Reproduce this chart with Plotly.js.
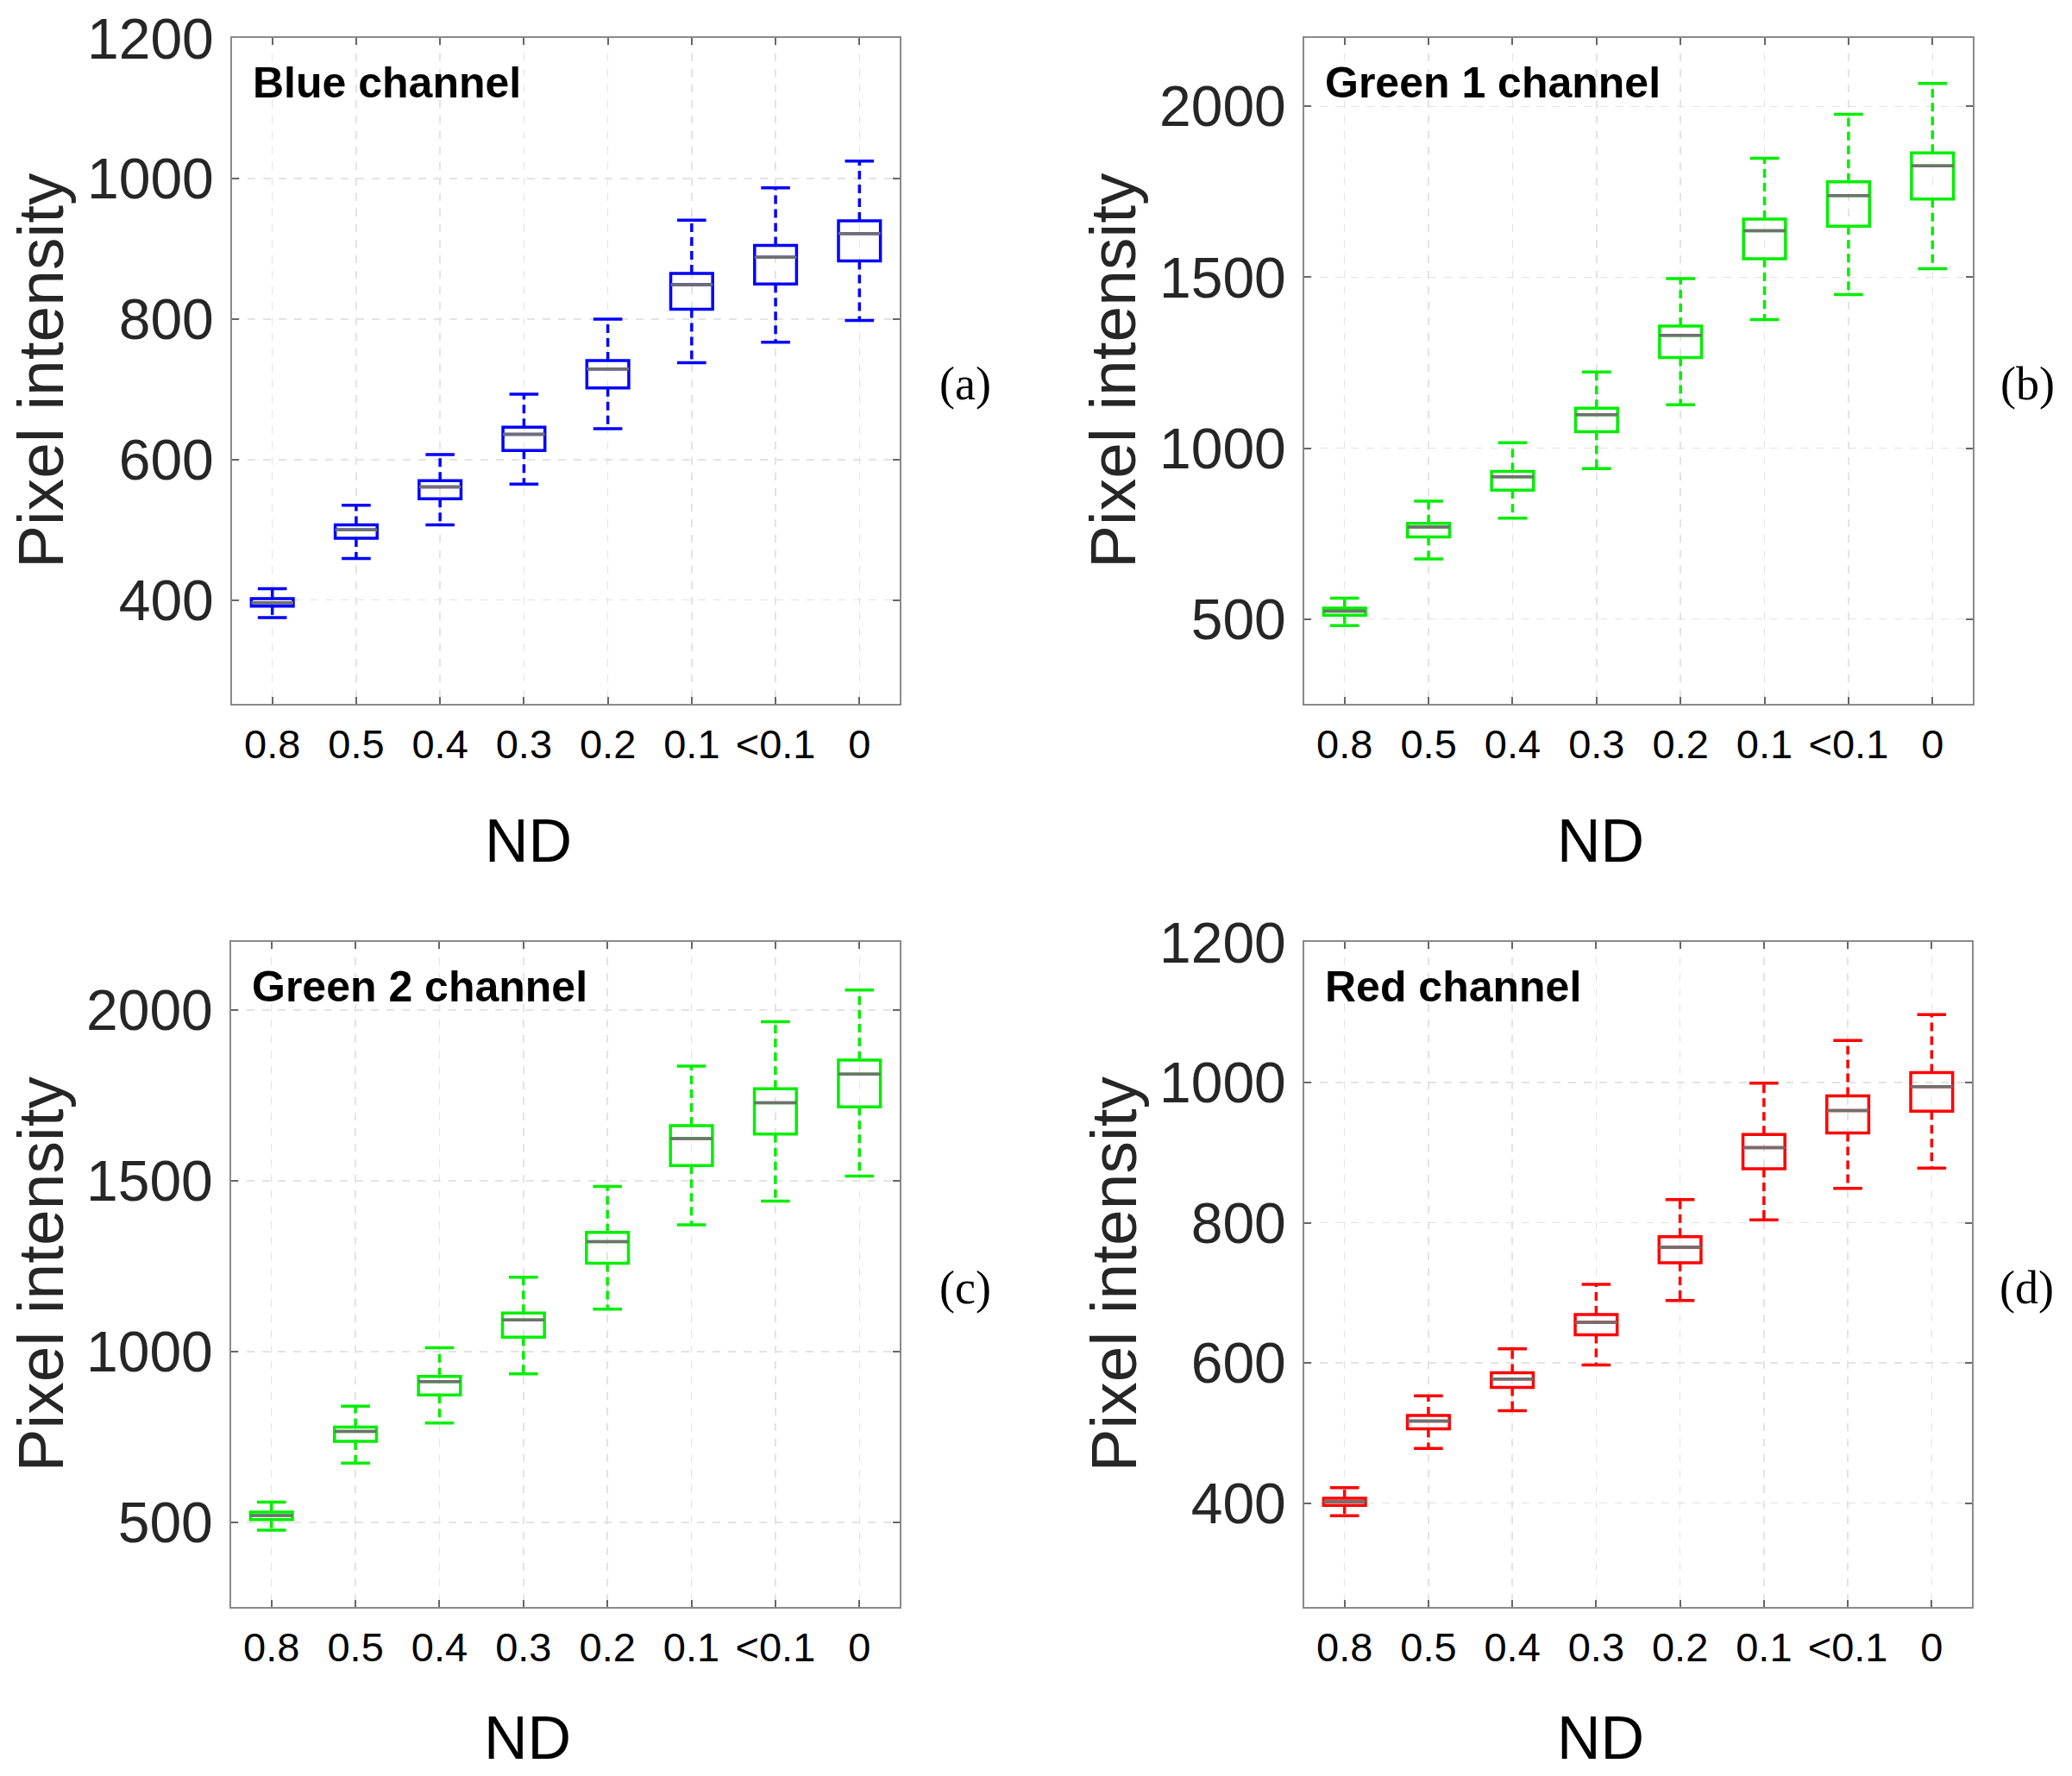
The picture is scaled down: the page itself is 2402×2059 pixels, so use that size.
<!DOCTYPE html>
<html>
<head>
<meta charset="utf-8">
<script src="https://cdn.plot.ly/plotly-3.0.1.min.js"></script>
<style>
  html, body { margin: 0; padding: 0; background: #ffffff; }
  #chart { width: 2402px; height: 2059px; }
</style>
</head>
<body>
<div id="chart"></div>
<script>
// ---------- data ----------
const categories = ['0.8', '0.5', '0.4', '0.3', '0.2', '0.1', '<0.1', '0'];

const blueLower = [375, 459, 507, 565, 644, 738, 767, 798];
const blueQ1    = [391, 488, 544, 613, 702, 814, 850, 883];
const blueMed   = [396, 500, 561, 636, 729, 849, 888, 922];
const blueQ3    = [402, 507, 570, 646, 741, 865, 905, 940];
const blueUpper = [416, 535, 607, 693, 800, 941, 987, 1025];

const green1Lower = [481, 676, 795, 940, 1127, 1376, 1449, 1525];
const green1Q1    = [511, 740, 877, 1048, 1265, 1554, 1649, 1729];
const green1Med   = [523, 769, 916, 1098, 1330, 1636, 1739, 1826];
const green1Q3    = [532, 780, 932, 1117, 1357, 1670, 1779, 1864];
const green1Upper = [561, 845, 1016, 1223, 1496, 1848, 1977, 2067];

const green2Lower = [477, 673, 791, 935, 1124, 1371, 1441, 1514];
const green2Q1    = [508, 737, 873, 1042, 1259, 1545, 1637, 1717];
const green2Med   = [520, 766, 912, 1093, 1322, 1624, 1729, 1813];
const green2Q3    = [530, 779, 927, 1113, 1349, 1662, 1770, 1854];
const green2Upper = [559, 840, 1011, 1218, 1484, 1836, 1966, 2059];

const redLower = [382, 478, 532, 597, 689, 804, 849, 878];
const redQ1    = [397, 506, 565, 640, 743, 877, 928, 959];
const redMed   = [402, 517, 577, 658, 765, 907, 960, 994];
const redQ3    = [407, 525, 586, 669, 780, 926, 981, 1014];
const redUpper = [422, 553, 620, 712, 833, 999, 1060, 1097];

const panelTitles = ['Blue channel', 'Green 1 channel', 'Green 2 channel', 'Red channel'];
const panelLetters = ['(a)', '(b)', '(c)', '(d)'];
const xTitle = 'ND';
const yTitle = 'Pixel intensity';

// ---------- styling / layout helpers ----------
const W = 2402, H = 2059;
const px = v => v / W;
const py = v => 1 - v / H;

const panels = [
  {lower: blueLower, q1: blueQ1, med: blueMed, q3: blueQ3, upper: blueUpper, color: '#0000ff',
   xs: '', left: 269, right: 1043, top: 44, bottom: 816, yrange: [252, 1200.5], tickvals: [400, 600, 800, 1000, 1200],
   letterOff: 76, ndOff: 159},
  {lower: green1Lower, q1: green1Q1, med: green1Med, q3: green1Q3, upper: green1Upper, color: '#00ee00',
   xs: '2', left: 1512, right: 2287, top: 44, bottom: 816, yrange: [252, 2200], tickvals: [500, 1000, 1500, 2000],
   letterOff: 63, ndOff: 159},
  {lower: green2Lower, q1: green2Q1, med: green2Med, q3: green2Q3, upper: green2Upper, color: '#00ee00',
   xs: '3', left: 268, right: 1043, top: 1092, bottom: 1863, yrange: [252, 2200], tickvals: [500, 1000, 1500, 2000],
   letterOff: 76, ndOff: 152},
  {lower: redLower, q1: redQ1, med: redMed, q3: redQ3, upper: redUpper, color: '#ff0000',
   xs: '4', left: 1512, right: 2286, top: 1092, bottom: 1863, yrange: [252, 1200.5], tickvals: [400, 600, 800, 1000, 1200],
   letterOff: 63, ndOff: 152}
];

const idx = categories.map((c, i) => i);
const boxHalf = 0.25;
const traces = [];
const layout = {
  width: W, height: H,
  margin: {l: 0, r: 0, t: 0, b: 0},
  paper_bgcolor: '#ffffff', plot_bgcolor: '#ffffff',
  showlegend: false,
  font: {family: 'Liberation Sans, Arial, sans-serif', color: '#000'},
  annotations: []
};

panels.forEach((p, k) => {
  const xa = 'x' + p.xs, ya = 'y' + p.xs;
  // boxes (no whiskers: fences at quartiles)
  traces.push({
    type: 'box', xaxis: xa, yaxis: ya,
    x: idx, q1: p.q1, median: p.med, q3: p.q3,
    lowerfence: p.q1, upperfence: p.q3,
    width: 2 * boxHalf, whiskerwidth: 0, boxpoints: false,
    line: {color: p.color, width: 3.5},
    fillcolor: 'rgba(255,255,255,0)',
    hoverinfo: 'skip'
  });
  // dashed whiskers
  const wx = [], wy = [];
  idx.forEach(i => {
    wx.push(i, i, null, i, i, null);
    wy.push(p.q3[i], p.upper[i], null, p.q1[i], p.lower[i], null);
  });
  traces.push({
    type: 'scatter', mode: 'lines', xaxis: xa, yaxis: ya,
    x: wx, y: wy, line: {color: p.color, width: 3.5, dash: '10px,6px'},
    hoverinfo: 'skip'
  });
  // whisker caps
  traces.push({
    type: 'scatter', mode: 'markers', xaxis: xa, yaxis: ya,
    x: idx.concat(idx), y: p.upper.concat(p.lower),
    marker: {symbol: 'line-ew', size: 24, line: {color: p.color, width: 3.5}},
    hoverinfo: 'skip'
  });
  // gray medians
  const mx = [], my = [];
  idx.forEach(i => {
    mx.push(i - boxHalf, i + boxHalf, null);
    my.push(p.med[i], p.med[i], null);
  });
  traces.push({
    type: 'scatter', mode: 'lines', xaxis: xa, yaxis: ya,
    x: mx, y: my, line: {color: '#707070', width: 3.5},
    hoverinfo: 'skip'
  });

  const axisCommon = {
    showline: true, linecolor: '#8a8a8a', linewidth: 2, mirror: 'ticks',
    ticks: 'inside', ticklen: 8, tickwidth: 2, tickcolor: '#666666',
    showgrid: true, gridcolor: '#e3e3e3', gridwidth: 1.5, griddash: 'dash',
    zeroline: false, fixedrange: true
  };
  layout['xaxis' + p.xs] = Object.assign({}, axisCommon, {
    domain: [px(p.left), px(p.right)], anchor: ya,
    range: [-0.48, 7.48], tickmode: 'array', tickvals: idx, ticktext: categories,
    tickfont: {family: 'Liberation Sans, Arial, sans-serif', size: 47, color: '#000'},
    ticklabelstandoff: 5
  });
  layout['yaxis' + p.xs] = Object.assign({}, axisCommon, {
    domain: [py(p.bottom), py(p.top)], anchor: xa,
    range: p.yrange, tickmode: 'array', tickvals: p.tickvals,
    tickfont: {family: 'Liberation Sans, Arial, sans-serif', size: 66, color: '#262626'},
    ticklabelstandoff: 6
  });

  const midY = (p.top + p.bottom) / 2;
  // panel title inside plot
  layout.annotations.push({
    xref: 'paper', yref: 'paper', x: px(p.left + 22), y: py(p.top + 52),
    xanchor: 'left', yanchor: 'middle', showarrow: false,
    text: '<b>' + panelTitles[k] + '</b>',
    font: {family: 'Liberation Sans, Arial, sans-serif', size: 50, color: '#000'}
  });
  // panel letter
  layout.annotations.push({
    xref: 'paper', yref: 'paper', x: px(p.right + p.letterOff), y: py(midY + 15),
    xanchor: 'center', yanchor: 'middle', showarrow: false,
    text: panelLetters[k],
    font: {family: 'Liberation Serif, Times New Roman, serif', size: 54, color: '#000'}
  });
  // y title
  layout.annotations.push({
    xref: 'paper', yref: 'paper', x: px(p.left - 222), y: py(midY),
    xanchor: 'center', yanchor: 'middle', showarrow: false, textangle: -90,
    text: yTitle,
    font: {family: 'Liberation Sans, Arial, sans-serif', size: 75, color: '#262626'}
  });
  // x title
  layout.annotations.push({
    xref: 'paper', yref: 'paper', x: px((p.left + p.right) / 2 - 44), y: py(p.bottom + p.ndOff),
    xanchor: 'center', yanchor: 'middle', showarrow: false,
    text: xTitle,
    font: {family: 'Liberation Sans, Arial, sans-serif', size: 70, color: '#000'}
  });
});

Plotly.newPlot('chart', traces, layout, {staticPlot: true, displayModeBar: false});
</script>
</body>
</html>
